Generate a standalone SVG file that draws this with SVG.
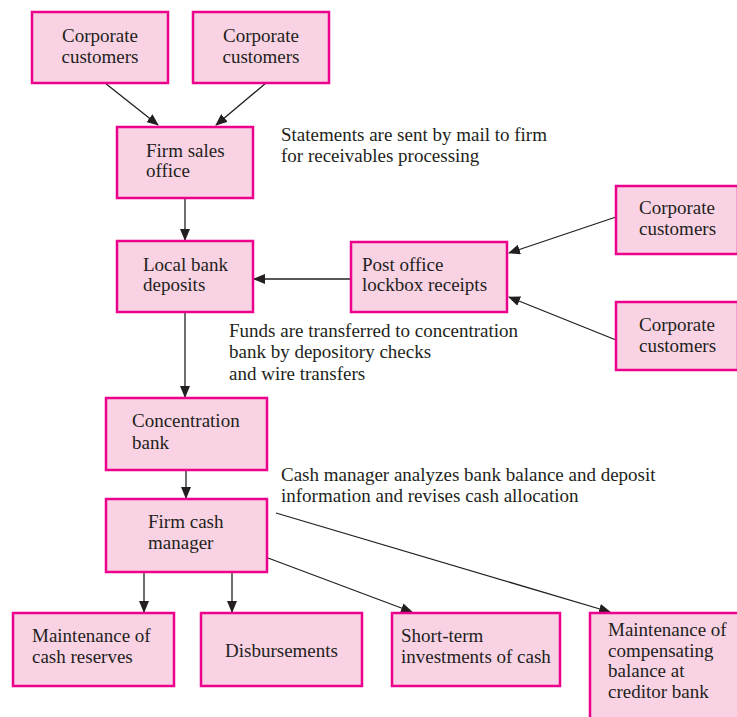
<svg xmlns="http://www.w3.org/2000/svg" width="737" height="717" viewBox="0 0 737 717">
<style>
.box{fill:#F9D3E4;stroke:#EC008C;stroke-width:2.5}
text{font-family:"Liberation Serif","Times New Roman",serif;font-size:19px;fill:#231F20}
.c{stroke:#231F20;stroke-width:1.3;fill:none;marker-end:url(#ah)}
</style>
<defs>
<marker id="ah" markerWidth="12" markerHeight="10" refX="11" refY="5" orient="auto" markerUnits="userSpaceOnUse">
<path d="M0,0 L12,5 L0,10 Z" fill="#231F20"/>
</marker>
</defs>
<rect width="737" height="717" fill="#fff"/>
<g id="connectors">
<line class="c" x1="105" y1="83" x2="158" y2="125"/>
<line class="c" x1="266" y1="83" x2="216" y2="125"/>
<line class="c" x1="185" y1="198" x2="185" y2="240"/>
<line class="c" x1="351" y1="279" x2="254" y2="279"/>
<line class="c" x1="616" y1="217" x2="509" y2="253"/>
<line class="c" x1="616" y1="340" x2="509" y2="297"/>
<line class="c" x1="185" y1="312" x2="185" y2="397"/>
<line class="c" x1="186" y1="470" x2="186" y2="498"/>
<line class="c" x1="144" y1="572" x2="144" y2="612"/>
<line class="c" x1="232" y1="572" x2="232" y2="612"/>
<line class="c" x1="268" y1="558" x2="412" y2="612"/>
<line class="c" x1="276" y1="513" x2="610" y2="612"/>
</g>
<g id="cc1"><rect class="box" x="32" y="12" width="136" height="71"/><text x="100" y="42" text-anchor="middle">Corporate</text><text x="100" y="63" text-anchor="middle">customers</text></g>
<g id="cc2"><rect class="box" x="193" y="12" width="136" height="71"/><text x="261" y="42" text-anchor="middle">Corporate</text><text x="261" y="63" text-anchor="middle">customers</text></g>
<g id="sales"><rect class="box" x="117" y="127" width="136" height="71"/><text x="146" y="157">Firm sales</text><text x="146" y="177">office</text></g>
<g id="note1"><text x="281" y="141">Statements are sent by mail to firm</text><text x="281" y="162">for receivables processing</text></g>
<g id="local"><rect class="box" x="117" y="241" width="136" height="71"/><text x="143" y="271">Local bank</text><text x="143" y="291">deposits</text></g>
<g id="postoffice"><rect class="box" x="351" y="242" width="156" height="70"/><text x="362" y="271">Post office</text><text x="362" y="291">lockbox receipts</text></g>
<g id="cc3"><rect class="box" x="616" y="186" width="122" height="68"/><text x="639" y="214">Corporate</text><text x="639" y="235">customers</text></g>
<g id="cc4"><rect class="box" x="616" y="302" width="122" height="68"/><text x="639" y="331">Corporate</text><text x="639" y="352">customers</text></g>
<g id="note2"><text x="229" y="337">Funds are transferred to concentration</text><text x="229" y="358">bank by depository checks</text><text x="229" y="380">and wire transfers</text></g>
<g id="concentration"><rect class="box" x="106" y="398" width="161" height="72"/><text x="132" y="427">Concentration</text><text x="132" y="449">bank</text></g>
<g id="note3"><text x="281" y="481">Cash manager analyzes bank balance and deposit</text><text x="281" y="502">information and revises cash allocation</text></g>
<g id="cashmgr"><rect class="box" x="106" y="499" width="161" height="73"/><text x="148" y="528">Firm cash</text><text x="148" y="549">manager</text></g>
<g id="reserves"><rect class="box" x="13" y="613" width="161" height="73"/><text x="32" y="642">Maintenance of</text><text x="32" y="663">cash reserves</text></g>
<g id="disb"><rect class="box" x="201" y="613" width="161" height="73"/><text x="281.5" y="657" text-anchor="middle">Disbursements</text></g>
<g id="shortterm"><rect class="box" x="392" y="613" width="168" height="73"/><text x="401" y="642">Short-term</text><text x="401" y="663">investments of cash</text></g>
<g id="compensating"><rect class="box" x="590" y="613" width="150" height="110"/><text x="608" y="636">Maintenance of</text><text x="608" y="657">compensating</text><text x="608" y="677">balance at</text><text x="608" y="698">creditor bank</text></g>
</svg>
